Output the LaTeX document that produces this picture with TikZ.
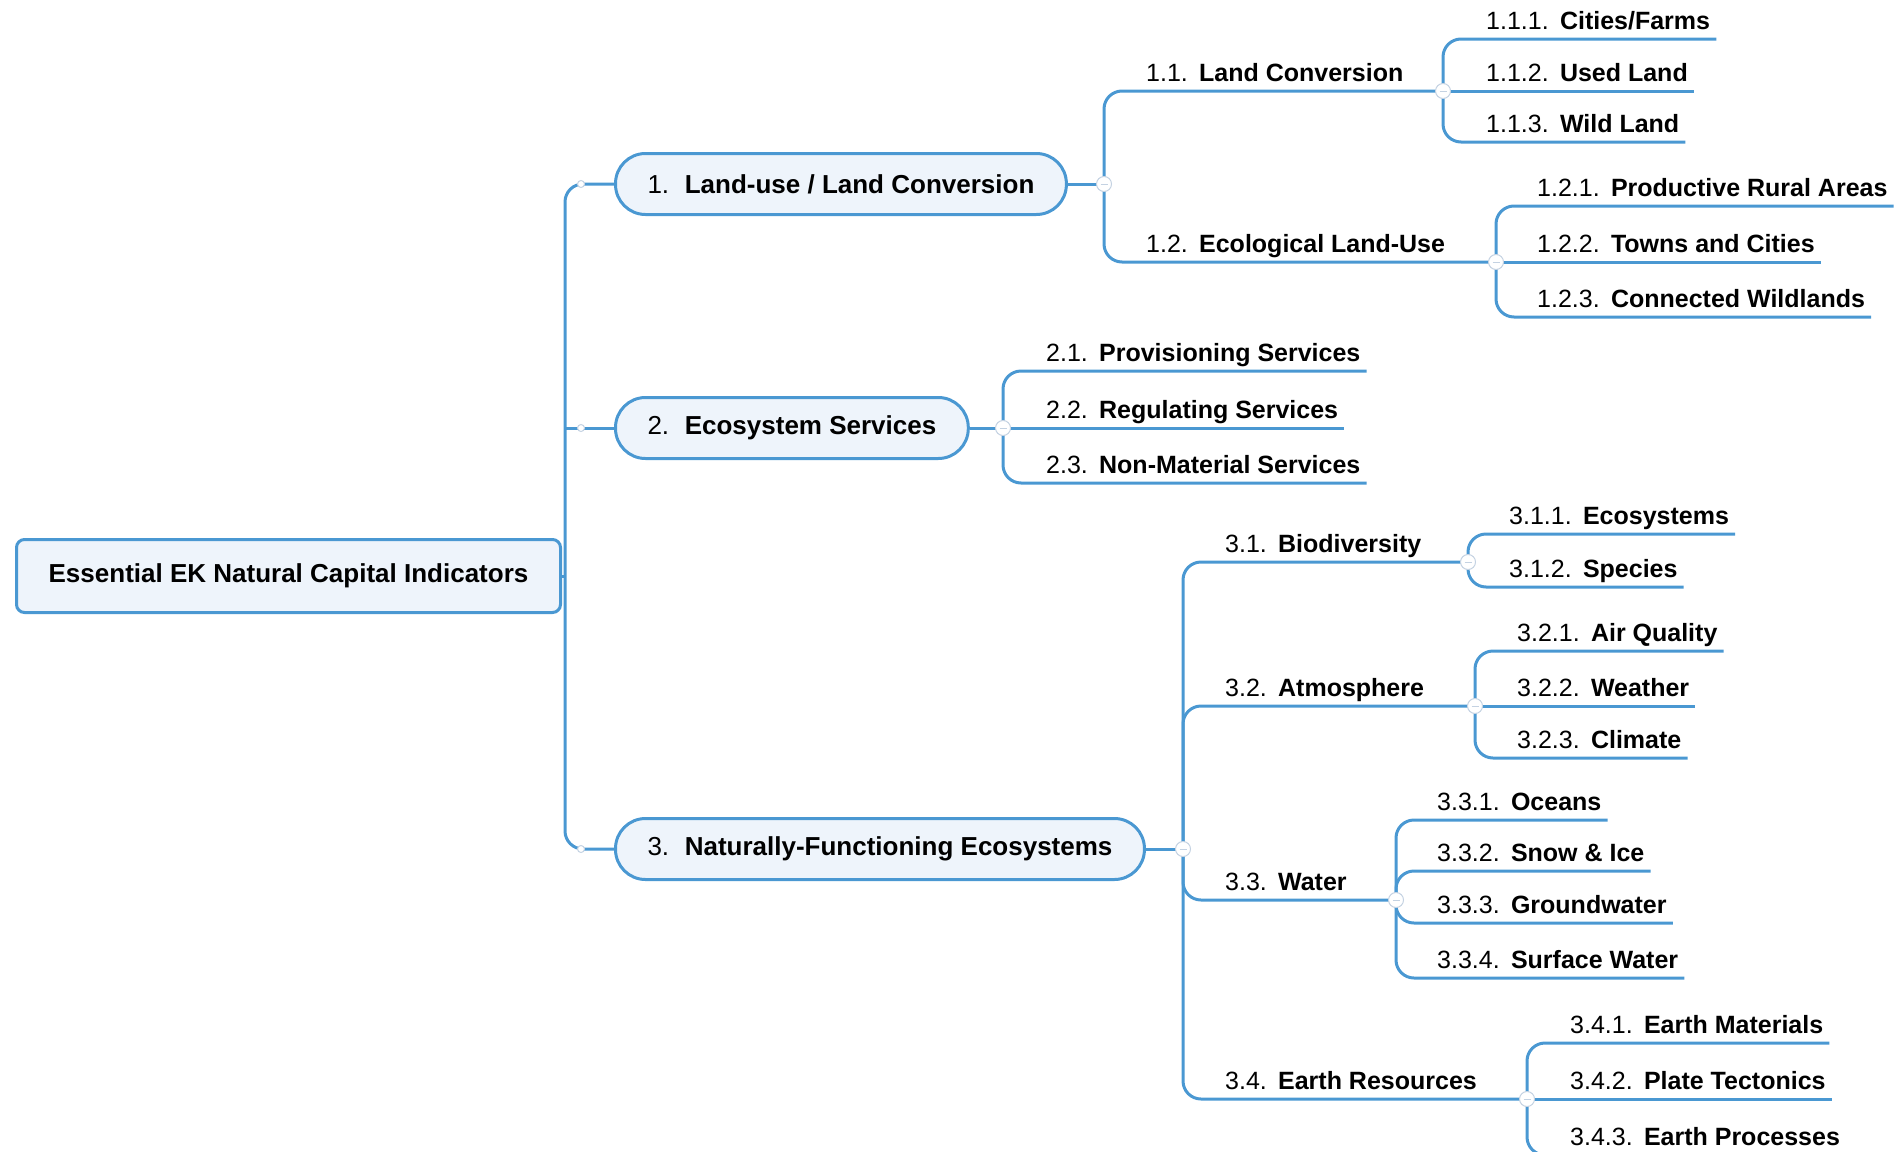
\documentclass[tikz,border=0pt]{standalone}
\usepackage{xcolor, fontspec}
\setmainfont{Liberation Sans}
\usepackage{tikz}
\usetikzlibrary{calc,backgrounds}

\definecolor{mapline}{RGB}{74,152,210}
\definecolor{mapfill}{RGB}{238,244,251}
\definecolor{knobline}{RGB}{196,210,226}

\begin{document}
\begin{tikzpicture}
	[x=1pt,y=-1pt,
	every node/.style={font=\fontsize{25}{30}\selectfont},
	branch/.style={draw=mapline,line width=3pt,rounded corners=18pt},
	rootbox/.style={draw=mapline,fill=mapfill,line width=3pt,rounded corners=8pt,anchor=west,
		minimum width=544pt,minimum height=73pt,font=\fontsize{26}{31}\selectfont\bfseries},
	topic/.style={draw=mapline,fill=mapfill,line width=3pt,rounded corners=30pt,anchor=west,
		minimum height=61pt,inner xsep=32pt,font=\fontsize{26}{31}\selectfont},
	entry/.style={anchor=base west,inner sep=0pt,yshift=10pt},
	knob/.style={circle,draw=knobline,fill=white,line width=1pt,minimum size=15pt,inner sep=0pt,
		path picture={\draw[knobline,line width=1pt] ([xshift=4pt]path picture bounding box.west) -- ([xshift=-4pt]path picture bounding box.east);}},
	handle/.style={circle,draw=knobline,fill=white,line width=1pt,minimum size=7pt,inner sep=0pt}]
	\useasboundingbox (0,0) rectangle (1902,1151);
	\node[rootbox] (root) at (15,576) {Essential EK Natural Capital Indicators};
	\node[topic] (t1) at (614,184) {1.\hspace{0.6em}\textbf{Land-use / Land Conversion}};
	\node[topic] (t2) at (614,428) {2.\hspace{0.6em}\textbf{Ecosystem Services}};
	\node[topic] (t3) at (614,849) {3.\hspace{0.6em}\textbf{Naturally-Functioning Ecosystems}};
	\coordinate (trunk) at (565,576);
	\node[handle] (h1) at (581,184) {};
	\node[handle] (h2) at (581,428) {};
	\node[handle] (h3) at (581,849) {};
	\node[knob] (k1) at (1104,184) {};
	\node[knob] (k2) at (1003,428) {};
	\node[knob] (k3) at (1183,849) {};
	\node[knob] (k11) at (1443,91) {};
	\node[knob] (k12) at (1496,262) {};
	\node[knob] (k31) at (1468,562) {};
	\node[knob] (k32) at (1475,706) {};
	\node[knob] (k33) at (1396,900) {};
	\node[knob] (k34) at (1527,1099) {};
	\node[entry] (e11) at (1146,91) {1.1.\hspace{0.45em}\textbf{Land Conversion}};
	\node[entry] (e12) at (1146,262) {1.2.\hspace{0.45em}\textbf{Ecological Land-Use}};
	\node[entry] (e111) at (1486,39) {1.1.1.\hspace{0.45em}\textbf{Cities/Farms}};
	\node[entry] (e112) at (1486,91) {1.1.2.\hspace{0.45em}\textbf{Used Land}};
	\node[entry] (e113) at (1486,142) {1.1.3.\hspace{0.45em}\textbf{Wild Land}};
	\node[entry] (e121) at (1537,206) {1.2.1.\hspace{0.45em}\textbf{Productive Rural Areas}};
	\node[entry] (e122) at (1537,262) {1.2.2.\hspace{0.45em}\textbf{Towns and Cities}};
	\node[entry] (e123) at (1537,317) {1.2.3.\hspace{0.45em}\textbf{Connected Wildlands}};
	\node[entry] (e21) at (1046,371) {2.1.\hspace{0.45em}\textbf{Provisioning Services}};
	\node[entry] (e22) at (1046,428) {2.2.\hspace{0.45em}\textbf{Regulating Services}};
	\node[entry] (e23) at (1046,483) {2.3.\hspace{0.45em}\textbf{Non-Material Services}};
	\node[entry] (e31) at (1225,562) {3.1.\hspace{0.45em}\textbf{Biodiversity}};
	\node[entry] (e32) at (1225,706) {3.2.\hspace{0.45em}\textbf{Atmosphere}};
	\node[entry] (e33) at (1225,900) {3.3.\hspace{0.45em}\textbf{Water}};
	\node[entry] (e34) at (1225,1099) {3.4.\hspace{0.45em}\textbf{Earth Resources}};
	\node[entry] (e311) at (1509,534) {3.1.1.\hspace{0.45em}\textbf{Ecosystems}};
	\node[entry] (e312) at (1509,587) {3.1.2.\hspace{0.45em}\textbf{Species}};
	\node[entry] (e321) at (1517,651) {3.2.1.\hspace{0.45em}\textbf{Air Quality}};
	\node[entry] (e322) at (1517,706) {3.2.2.\hspace{0.45em}\textbf{Weather}};
	\node[entry] (e323) at (1517,758) {3.2.3.\hspace{0.45em}\textbf{Climate}};
	\node[entry] (e331) at (1437,820) {3.3.1.\hspace{0.45em}\textbf{Oceans}};
	\node[entry] (e332) at (1437,871) {3.3.2.\hspace{0.45em}\textbf{Snow \& Ice}};
	\node[entry] (e333) at (1437,923) {3.3.3.\hspace{0.45em}\textbf{Groundwater}};
	\node[entry] (e334) at (1437,978) {3.3.4.\hspace{0.45em}\textbf{Surface Water}};
	\node[entry] (e341) at (1570,1043) {3.4.1.\hspace{0.45em}\textbf{Earth Materials}};
	\node[entry] (e342) at (1570,1099) {3.4.2.\hspace{0.45em}\textbf{Plate Tectonics}};
	\node[entry] (e343) at (1570,1155) {3.4.3.\hspace{0.45em}\textbf{Earth Processes}};
	\begin{pgfonlayer}{background}
		\draw[branch] (root.east) -- (trunk);
		\draw[branch] (t1.west) -| (trunk) |- (t3.west);
		\draw[branch] (trunk |- t2.west) -- (t2.west);
		\draw[branch] (t1.east) -- (k1.center);
		\draw[branch] (t2.east) -- (k2.center);
		\draw[branch] (t3.east) -- (k3.center);
		\draw[branch] (k1.center) |- (k11.center);
		\draw[branch] (k1.center) |- (k12.center);
		\draw[branch] (k11.center) |- ($(e111.base east)+(6,10)$);
		\draw[branch] (k11.center) -- ($(e112.base east)+(6,10)$);
		\draw[branch] (k11.center) |- ($(e113.base east)+(6,10)$);
		\draw[branch] (k12.center) |- ($(e121.base east)+(6,10)$);
		\draw[branch] (k12.center) -- ($(e122.base east)+(6,10)$);
		\draw[branch] (k12.center) |- ($(e123.base east)+(6,10)$);
		\draw[branch] (k2.center) |- ($(e21.base east)+(6,10)$);
		\draw[branch] (k2.center) -- ($(e22.base east)+(6,10)$);
		\draw[branch] (k2.center) |- ($(e23.base east)+(6,10)$);
		\draw[branch] (k3.center) |- (k31.center);
		\draw[branch] (k3.center) |- (k32.center);
		\draw[branch] (k3.center) |- (k33.center);
		\draw[branch] (k3.center) |- (k34.center);
		\draw[branch] (k31.center) |- ($(e311.base east)+(6,10)$);
		\draw[branch] (k31.center) |- ($(e312.base east)+(6,10)$);
		\draw[branch] (k32.center) |- ($(e321.base east)+(6,10)$);
		\draw[branch] (k32.center) -- ($(e322.base east)+(6,10)$);
		\draw[branch] (k32.center) |- ($(e323.base east)+(6,10)$);
		\draw[branch] (k33.center) |- ($(e331.base east)+(6,10)$);
		\draw[branch] (k33.center) |- ($(e332.base east)+(6,10)$);
		\draw[branch] (k33.center) |- ($(e333.base east)+(6,10)$);
		\draw[branch] (k33.center) |- ($(e334.base east)+(6,10)$);
		\draw[branch] (k34.center) |- ($(e341.base east)+(6,10)$);
		\draw[branch] (k34.center) -- ($(e342.base east)+(6,10)$);
		\draw[branch] (k34.center) |- ($(e343.base east)+(6,10)$);
	\end{pgfonlayer}
\end{tikzpicture}
\end{document}
